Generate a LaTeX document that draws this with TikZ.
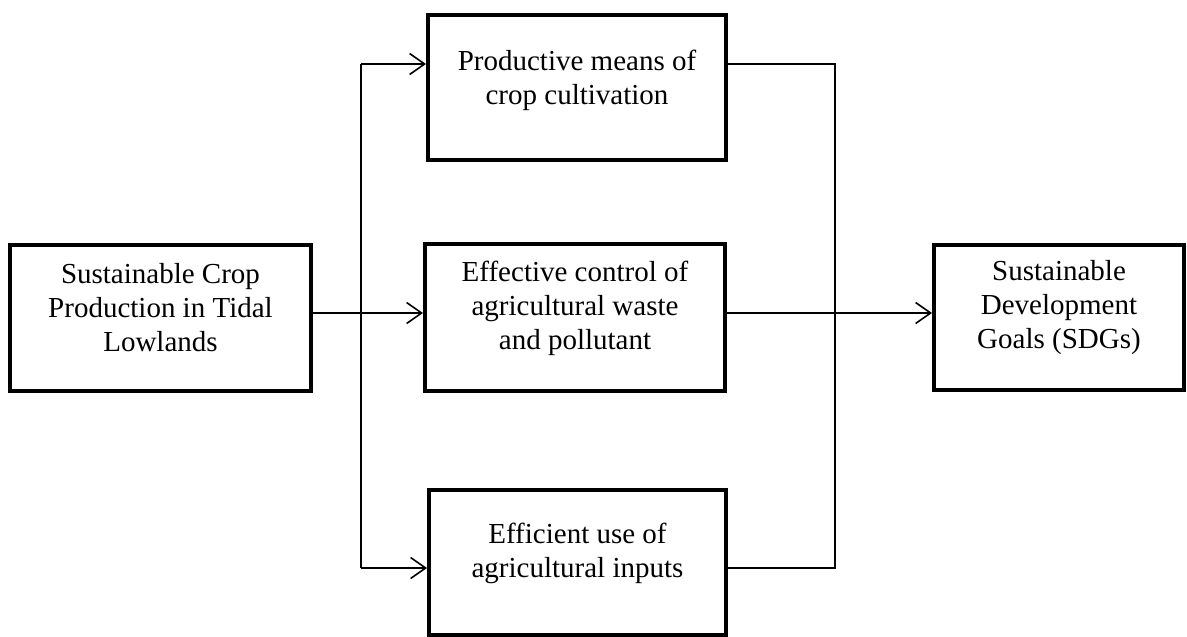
\documentclass[tikz,border=0pt]{standalone}
\usepackage{fontspec}
\setmainfont{Liberation Serif}
\usetikzlibrary{arrows.meta}
\begin{document}
\begin{tikzpicture}[x=1pt,y=-1pt,
  box/.style={draw=black,line width=4pt,rectangle,inner sep=0pt},
  lbl/.style={align=center,inner sep=0pt,font=\fontsize{29}{34}\selectfont},
  conn/.style={line width=1.6pt},
  arr/.style={conn,-{Straight Barb[length=15pt,width=21pt,line width=1.6pt]}}]
\useasboundingbox (0,0) rectangle (1187,637);

% boxes
\node[box,minimum width=301pt,minimum height=146pt] (src) at (160.5,318) {};
\node[box,minimum width=298pt,minimum height=145pt] (p1) at (577,87.5) {};
\node[box,minimum width=300pt,minimum height=147pt] (p2) at (575,317.5) {};
\node[box,minimum width=297pt,minimum height=145pt] (p3) at (577.5,562.5) {};
\node[box,minimum width=250pt,minimum height=145pt] (sdg) at (1059,317.5) {};

% box texts
\node[lbl] (tsrc) at (160.5,308) {Sustainable Crop\\Production in Tidal\\Lowlands};
\node[lbl] (tp1) at (577,80) {Productive means of\\crop cultivation};
\node[lbl] (tp2) at (575,308) {Effective control of\\agricultural waste\\and pollutant};
\node[lbl] (tp3) at (577.5,553) {Efficient use of\\agricultural inputs};
\node[lbl] (tsdg) at (1059,308) {Sustainable\\Development\\Goals (SDGs)};

% junction points of the two vertical spines
\coordinate (ltop) at (361,64);
\coordinate (lmid) at (361,313);
\coordinate (lbot) at (361,568);
\coordinate (rtop) at (835,64);
\coordinate (rmid) at (835,313);
\coordinate (rbot) at (835,568);

% left distribution
\draw[conn] (ltop) -- (lbot);
\draw[arr] (src.east |- lmid) -- (p2.west |- lmid);
\draw[arr] (ltop) -- (p1.west |- ltop);
\draw[arr] (lbot) -- (p3.west |- lbot);

% right collection
\draw[conn] (p1.east |- rtop) -- (rtop) -- (rbot) -- (p3.east |- rbot);
\draw[arr] (p2.east |- rmid) -- (sdg.west |- rmid);
\end{tikzpicture}
\end{document}
